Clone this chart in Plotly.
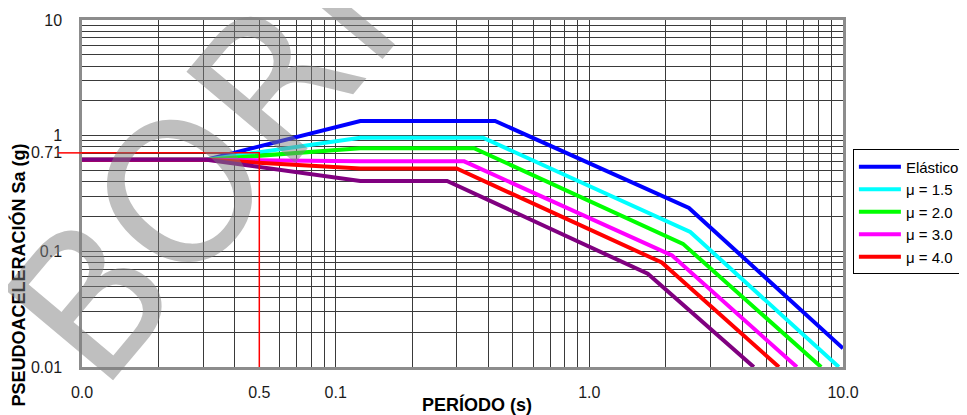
import plotly.graph_objects as go

# ---- data ----
elastic_T = [0.01, 0.031, 0.125, 0.425, 2.47, 10.0]
elastic_Sa = [0.62, 0.62, 1.34, 1.34, 0.237, 0.0145]

mu15_T = [0.01, 0.031, 0.125, 0.381, 2.50, 9.63]
mu15_Sa = [0.62, 0.62, 0.96, 0.96, 0.147, 0.01]

mu20_T = [0.01, 0.031, 0.125, 0.351, 2.34, 8.2]
mu20_Sa = [0.62, 0.62, 0.78, 0.78, 0.116, 0.01]

mu30_T = [0.01, 0.031, 0.125, 0.321, 2.12, 6.58]
mu30_Sa = [0.62, 0.62, 0.60, 0.60, 0.092, 0.01]

mu40_T = [0.01, 0.031, 0.125, 0.30, 1.93, 5.59]
mu40_Sa = [0.62, 0.62, 0.52, 0.52, 0.080, 0.01]

mu60_T = [0.01, 0.031, 0.125, 0.275, 1.70, 4.45]
mu60_Sa = [0.62, 0.62, 0.406, 0.406, 0.064, 0.01]

series_names = ["Elástico", "μ = 1.5", "μ = 2.0", "μ = 3.0", "μ = 4.0", "μ = 6.0"]
series_colors = ["#0000FF", "#00FFFF", "#00FF00", "#FF00FF", "#FF0000", "#800080"]
series_T = [elastic_T, mu15_T, mu20_T, mu30_T, mu40_T, mu60_T]
series_Sa = [elastic_Sa, mu15_Sa, mu20_Sa, mu30_Sa, mu40_Sa, mu60_Sa]
series_legend = [True, True, True, True, True, False]

# design point
ref_T = 0.05
ref_Sa = 0.71

x_tickvals = [0.01, 0.05, 0.1, 1, 10]
x_ticktext = ["0.0", "0.5", "0.1", "1.0", "10.0"]
y_tickvals = [0.01, 0.1, 0.71, 1, 10]
y_ticktext = ["0.01", "0.1", "0.71", "1", "10"]

grid_vals = [m * 10.0 ** e for e in range(-2, 1) for m in range(1, 10)] + [10.0]

fig = go.Figure()
for name, color, T, Sa, sl in zip(series_names, series_colors, series_T, series_Sa, series_legend):
    fig.add_trace(go.Scatter(x=T, y=Sa, mode="lines", name=name, showlegend=sl,
                             line=dict(color=color, width=4)))

# red reference lines
fig.add_trace(go.Scatter(x=[0.01, ref_T, ref_T], y=[ref_Sa, ref_Sa, 0.01], mode="lines",
                         line=dict(color="#FF0000", width=1.5), showlegend=False))
fig.add_shape(type="line", xref="paper", yref="y", x0=-0.0315, x1=0.0, y0=ref_Sa, y1=ref_Sa,
              line=dict(color="#FF0000", width=1.5))

axis_common = dict(
    type="log", range=[-2, 1], tickmode="array", automargin=False,
    showgrid=False, zeroline=False,
    showline=True, linecolor="#8c8c8c", linewidth=2.5, mirror=True,
    ticks="", tickfont=dict(family="Liberation Sans, Arial", size=16, color="#1a1a1a"),
    minor=dict(tickmode="array", tickvals=grid_vals, showgrid=True, gridcolor="#3a3a3a",
               gridwidth=1, ticks=""),
)

fig.update_xaxes(**axis_common, tickvals=x_tickvals, ticktext=x_ticktext, ticklabelstandoff=9)
fig.update_yaxes(**axis_common, tickvals=y_tickvals, ticktext=y_ticktext, ticklabelstandoff=14)

fig.add_annotation(text="<b>PERÍODO (s)</b>", xref="paper", yref="paper", x=0.519, y=-0.1095,
                   xanchor="center", yanchor="middle", showarrow=False,
                   font=dict(family="Liberation Sans, Arial", size=18, color="#000"))
fig.add_annotation(text="<b>PSEUDOACELERACIÓN Sa (g)</b>", xref="paper", yref="paper",
                   x=-0.0828, y=0.2666, xanchor="center", yanchor="middle", textangle=-90,
                   showarrow=False, font=dict(family="Liberation Sans, Arial", size=18, color="#000"))

# watermark
fig.add_annotation(text="BORRADOR", xref="paper", yref="paper", x=0.4285, y=1.279,
                   xanchor="center", yanchor="middle", textangle=-50, showarrow=False,
                   font=dict(family="DejaVu Sans", size=195, color="rgba(128,128,128,0.5)"))

fig.update_layout(
    width=959, height=407,
    margin=dict(l=74, r=124, t=12, b=48, autoexpand=False),
    paper_bgcolor="white", plot_bgcolor="white",
    legend=dict(x=1.013, y=0.4467, xanchor="left", yanchor="middle",
                bgcolor="white", bordercolor="#000", borderwidth=1,
                font=dict(family="Liberation Sans, Arial", size=15, color="#000"),
                itemwidth=42, tracegroupgap=0),
)

fig.write_html("out.html")
